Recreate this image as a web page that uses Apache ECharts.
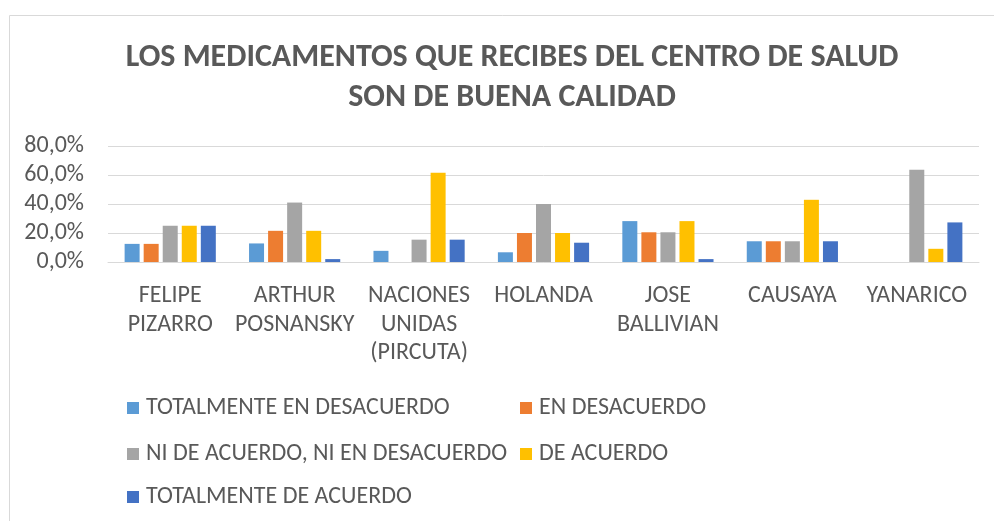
<!DOCTYPE html>
<html>
<head>
<meta charset="utf-8">
<script src="https://cdn.jsdelivr.net/npm/echarts@6/dist/echarts.min.js"></script>
<style>
  html, body { margin: 0; padding: 0; background: #fff; }
  #main { width: 994px; height: 521px; }
</style>
</head>
<body>
<div id="main"></div>
<script>
var categories = ['FELIPE\nPIZARRO', 'ARTHUR\nPOSNANSKY', 'NACIONES\nUNIDAS\n(PIRCUTA)', 'HOLANDA', 'JOSE\nBALLIVIAN', 'CAUSAYA', 'YANARICO']
var seriesNames = ['TOTALMENTE EN DESACUERDO', 'EN DESACUERDO', 'NI DE ACUERDO, NI EN DESACUERDO', 'DE ACUERDO', 'TOTALMENTE DE ACUERDO']
var totDesacuerdo = [12.5, 12.8, 7.7, 6.7, 28.2, 14.3, 0]
var enDesacuerdo = [12.5, 21.5, 0, 20.0, 20.5, 14.3, 0]
var niNi = [25.0, 41.0, 15.4, 40.0, 20.5, 14.3, 63.6]
var deAcuerdo = [25.0, 21.5, 61.5, 20.0, 28.2, 42.9, 9.1]
var totAcuerdo = [25.0, 2.0, 15.4, 13.3, 2.0, 14.3, 27.3]
var yTicks = [0, 20, 40, 60, 80]

var colors = ['#5B9BD5', '#ED7D31', '#A5A5A5', '#FFC000', '#4472C4']
var font = 'Carlito, "Liberation Sans", sans-serif'
var textColor = '#595959'

var chart = echarts.init(document.getElementById('main'))
var allData = [totDesacuerdo, enDesacuerdo, niNi, deAcuerdo, totAcuerdo]

// legend laid out like Excel: 2 columns, 3 rows
var legendPos = [[127, 408], [520, 408], [127, 454], [520, 454], [127, 497]]
var legends = seriesNames.map(function (name, i) {
  return {
    data: [name],
    left: legendPos[i][0],
    top: legendPos[i][1] - 12,
    padding: 0,
    itemWidth: 12,
    itemHeight: 12,
    icon: 'rect',
    textStyle: { fontSize: 24, lineHeight: 24, color: textColor, fontFamily: font, padding: [0, 0, 0, 2] },
  }
})

var option = {
  animation: false,
  color: colors,
  title: {
    text: 'LOS MEDICAMENTOS QUE RECIBES DEL CENTRO DE SALUD\nSON DE BUENA CALIDAD',
    left: 507,
    textAlign: 'center',
    top: 33,
    textStyle: {
      fontSize: 32,
      fontWeight: 'bold',
      color: textColor,
      fontFamily: font,
      lineHeight: 40,
    },
  },
  graphic: [{
    type: 'rect',
    shape: { x: 9.5, y: 15.5, width: 1000, height: 520 },
    style: { fill: 'none', stroke: '#d9d9d9', lineWidth: 1 },
    silent: true,
  }],
  legend: legends,
  grid: { left: 108, right: 15, top: 146, bottom: 259, containLabel: false },
  xAxis: {
    type: 'category',
    data: categories,
    axisLine: { show: true, lineStyle: { color: '#d9d9d9', width: 1 } },
    axisTick: { show: false },
    axisLabel: {
      fontSize: 24,
      color: textColor,
      fontFamily: font,
      lineHeight: 28.5,
      margin: 20,
      interval: 0,
    },
  },
  yAxis: {
    type: 'value',
    min: yTicks[0],
    max: yTicks[yTicks.length - 1],
    interval: 20,
    axisLine: { show: false },
    axisTick: { show: false },
    splitLine: { lineStyle: { color: '#d9d9d9', width: 1 } },
    axisLabel: {
      fontSize: 24,
      color: textColor,
      fontFamily: font,
      margin: 24,
      formatter: function (v) { return v.toFixed(1).replace('.', ',') + '%' },
    },
  },
  series: seriesNames.map(function (name, i) {
    return {
      name: name,
      type: 'bar',
      data: allData[i],
      barWidth: 15,
      barGap: '27%',
      itemStyle: { color: colors[i] },
    }
  }),
}
chart.setOption(option)
</script>
</body>
</html>
